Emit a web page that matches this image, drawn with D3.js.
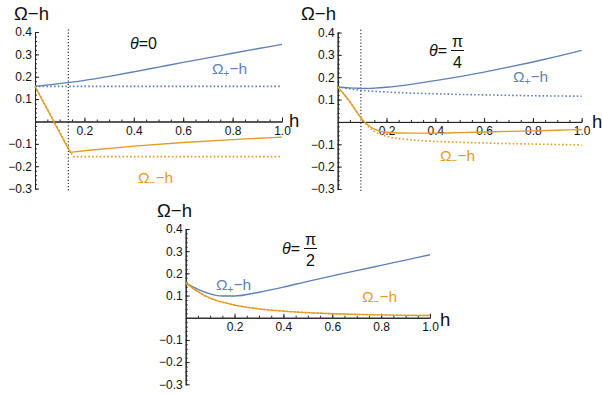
<!DOCTYPE html>
<html>
<head>
<meta charset="utf-8">
<script src="https://cdn.jsdelivr.net/npm/d3@7"></script>
<style>
  body { margin: 0; background: #fff; }
  svg { display: block; font-family: "Liberation Sans", Arial, sans-serif; }
  .tickLabel text { font-size: 12px; fill: #111; }
  .axisLine path, .axisLine line { stroke: #222; stroke-width: 1; }
</style>
</head>
<body>
<script>

/************************************************************************************************************/
// data

var hPanel1Plus = [0, 0.14, 0.2, 0.3, 0.4, 0.5, 0.6, 0.7, 0.8, 0.9, 1.0];
var plusSolid1  = [0.157, 0.175, 0.184, 0.202, 0.222, 0.243, 0.264, 0.284, 0.305, 0.325, 0.345];
var plusDotted1 = [0.157, 0.157, 0.157, 0.157, 0.157, 0.157, 0.157, 0.157, 0.157, 0.157, 0.157];

var hPanel1Minus  = [0, 0.142, 0.2, 0.4, 0.6, 0.8, 1.0];
var minusSolid1   = [0.157, -0.138, -0.131, -0.110, -0.094, -0.081, -0.070];
var hPanel1MinusD = [0, 0.155, 0.4, 0.6, 0.8, 1.0];
var minusDotted1  = [0.157, -0.157, -0.157, -0.157, -0.157, -0.157];

var hPanel2 = [0, 0.025, 0.05, 0.075, 0.1, 0.125, 0.15, 0.2, 0.3, 0.4, 0.5, 0.6, 0.7, 0.8, 0.9, 1.0];
var plusSolid2   = [0.157, 0.154, 0.152, 0.151, 0.150, 0.150, 0.151, 0.155, 0.168, 0.185, 0.203, 0.223, 0.245, 0.268, 0.293, 0.320];
var plusDotted2  = [0.157, 0.152, 0.148, 0.144, 0.141, 0.139, 0.137, 0.134, 0.129, 0.126, 0.123, 0.121, 0.119, 0.117, 0.116, 0.115];
var minusSolid2  = [0.157, 0.125, 0.090, 0.050, 0.012, -0.015, -0.032, -0.046, -0.050, -0.050, -0.048, -0.045, -0.042, -0.040, -0.037, -0.034];
var minusDotted2 = [0.157, 0.125, 0.090, 0.050, 0.010, -0.020, -0.042, -0.064, -0.080, -0.087, -0.091, -0.094, -0.097, -0.099, -0.101, -0.103];

var hPanel3 = [0, 0.05, 0.1, 0.15, 0.2, 0.3, 0.4, 0.5, 0.6, 0.7, 0.8, 0.9, 1.0];
var plusSolid3  = [0.157, 0.128, 0.108, 0.098, 0.098, 0.115, 0.138, 0.164, 0.189, 0.212, 0.236, 0.260, 0.284];
var minusSolid3 = [0.157, 0.118, 0.088, 0.070, 0.057, 0.040, 0.030, 0.023, 0.018, 0.015, 0.013, 0.011, 0.010];
var minusDotted3 = minusSolid3.slice();

var yMajorTicks = [-0.3, -0.2, -0.1, 0.1, 0.2, 0.3, 0.4];
var xMajorTicks = [0.2, 0.4, 0.6, 0.8, 1.0];

var blue = "#5e81b5", orange = "#e19c24";

/************************************************************************************************************/

var svg = d3.select("body").append("svg").attr("width", 602).attr("height", 394);

var panels = [
  {x0: 35, x1: 282, yTop: 32, yBot: 188.6,
   title: [14, 20], hLabel: [289, 127],
   vline: 0.135,
   theta: {x: 130, y: 49, frac: null, text: "0"},
   plusLabel: [212, 74], minusLabel: [138, 183],
   series: [
     {h: hPanel1Plus, v: plusDotted1, color: blue, dotted: true, curve: d3.curveLinear},
     {h: hPanel1MinusD, v: minusDotted1, color: orange, dotted: true, curve: d3.curveLinear},
     {h: hPanel1Plus, v: plusSolid1, color: blue, dotted: false, curve: d3.curveMonotoneX},
     {h: hPanel1Minus, v: minusSolid1, color: orange, dotted: false, curve: d3.curveLinear}
   ]},
  {x0: 337.7, x1: 581.7, yTop: 32.5, yBot: 189,
   title: [301, 20], hLabel: [592, 128],
   vline: 0.095,
   theta: {x: 429, y: 56, frac: ["π", "4"]},
   plusLabel: [513, 81.5], minusLabel: [440, 160.5],
   series: [
     {h: hPanel2, v: plusDotted2, color: blue, dotted: true, curve: d3.curveMonotoneX},
     {h: hPanel2, v: minusDotted2, color: orange, dotted: true, curve: d3.curveMonotoneX},
     {h: hPanel2, v: plusSolid2, color: blue, dotted: false, curve: d3.curveMonotoneX},
     {h: hPanel2, v: minusSolid2, color: orange, dotted: false, curve: d3.curveMonotoneX}
   ]},
  {x0: 185.7, x1: 430, yTop: 229, yBot: 384.3,
   title: [157, 217], hLabel: [440, 326],
   vline: null,
   theta: {x: 282, y: 254, frac: ["π", "2"]},
   plusLabel: [216, 290], minusLabel: [362, 301.5],
   series: [
     {h: hPanel3, v: plusSolid3, color: blue, dotted: false, curve: d3.curveMonotoneX},
     {h: hPanel3, v: minusSolid3, color: orange, dotted: false, curve: d3.curveMonotoneX},
     {h: hPanel3, v: minusDotted3, color: orange, dotted: true, curve: d3.curveMonotoneX}
   ]}
];

panels.forEach(function(p){ drawPanel(svg, p); });

/************************************************************************************************************/

function drawPanel(svg, p){

  var x = d3.scaleLinear().domain([0, 1]).range([p.x0, p.x1]);
  var y = d3.scaleLinear().domain([-0.3, 0.4]).range([p.yBot, p.yTop]);
  var zeroY = y(0);

  var g = svg.append("g");

  // vertical dotted marker
  if(p.vline !== null){
    g.append("line")
      .attr("x1", x(p.vline)).attr("x2", x(p.vline))
      .attr("y1", y(0.412)).attr("y2", y(-0.31))
      .attr("stroke", "#333").attr("stroke-width", 1.2)
      .attr("stroke-dasharray", "1.2,2");
  }

  // y axis: ticks pointing right, labels left
  var yMinor = d3.range(-0.3, 0.401, 0.02);
  g.append("g").attr("class", "axisLine")
    .attr("transform", "translate(" + [x(0), 0] + ")")
    .call(d3.axisLeft(y).tickValues(yMinor).tickSize(-2).tickSizeOuter(0).tickFormat(""));
  g.append("g").attr("class", "axisLine tickLabel")
    .attr("transform", "translate(" + [x(0), 0] + ")")
    .call(d3.axisLeft(y).tickValues(yMajorTicks).tickSize(-4).tickSizeOuter(0).tickPadding(3)
      .tickFormat(function(d){ return d3.format(".1f")(d).replace("-", "\u2212"); }));

  // x axis: ticks pointing up, labels below
  var xMinor = d3.range(0.05, 1.001, 0.05);
  g.append("g").attr("class", "axisLine")
    .attr("transform", "translate(" + [0, zeroY] + ")")
    .call(d3.axisBottom(x).tickValues(xMinor).tickSize(-2).tickSizeOuter(0).tickFormat(""));
  g.append("g").attr("class", "axisLine tickLabel")
    .attr("transform", "translate(" + [0, zeroY] + ")")
    .call(d3.axisBottom(x).tickValues(xMajorTicks).tickSize(-4).tickSizeOuter(0).tickPadding(5)
      .tickFormat(d3.format(".1f")));

  // curves
  p.series.forEach(function(s){
    var pts = s.h.map(function(h, i){ return [h, s.v[i]]; });
    var line = d3.line().curve(s.curve)
      .x(function(d){ return x(d[0]); })
      .y(function(d){ return y(d[1]); });
    g.append("path")
      .attr("d", line(pts))
      .attr("fill", "none")
      .attr("stroke", s.color)
      .attr("stroke-width", s.dotted ? 1.6 : 1.35)
      .attr("stroke-dasharray", s.dotted ? "1.6,2.2" : null);
  });

  // axis labels
  g.append("text").attr("x", p.title[0]).attr("y", p.title[1])
    .attr("font-size", 18.5).attr("fill", "#111").text("\u03a9\u2212h");
  g.append("text").attr("x", p.hLabel[0]).attr("y", p.hLabel[1])
    .attr("font-size", 18.5).attr("fill", "#111").text("h");

  // theta label
  var t = g.append("text").attr("x", p.theta.x).attr("y", p.theta.y)
    .attr("font-size", 16).attr("fill", "#111");
  t.append("tspan").attr("font-style", "italic").text("\u03b8");
  t.append("tspan").text("=" + (p.theta.frac ? "" : p.theta.text));
  if(p.theta.frac){
    var fx = p.theta.x + 22;
    g.append("line").attr("x1", fx).attr("x2", fx + 13)
      .attr("y1", p.theta.y - 5.5).attr("y2", p.theta.y - 5.5)
      .attr("stroke", "#111").attr("stroke-width", 1);
    g.append("text").attr("x", fx + 6.5).attr("y", p.theta.y - 9.5)
      .attr("text-anchor", "middle").attr("font-size", 16).attr("fill", "#111").text(p.theta.frac[0]);
    g.append("text").attr("x", fx + 6.5).attr("y", p.theta.y + 12)
      .attr("text-anchor", "middle").attr("font-size", 16).attr("fill", "#111").text(p.theta.frac[1]);
  }

  // series labels
  seriesLabel(g, p.plusLabel, "+", blue);
  seriesLabel(g, p.minusLabel, "\u2212", orange);
}

function seriesLabel(g, pos, sub, color){
  var t = g.append("text").attr("x", pos[0]).attr("y", pos[1])
    .attr("font-size", 15.5).attr("fill", color);
  t.append("tspan").text("\u03a9");
  t.append("tspan").attr("font-size", 10).attr("dy", 3).text(sub);
  t.append("tspan").attr("dy", -3).text("\u2212h");
}

</script>
</body>
</html>
